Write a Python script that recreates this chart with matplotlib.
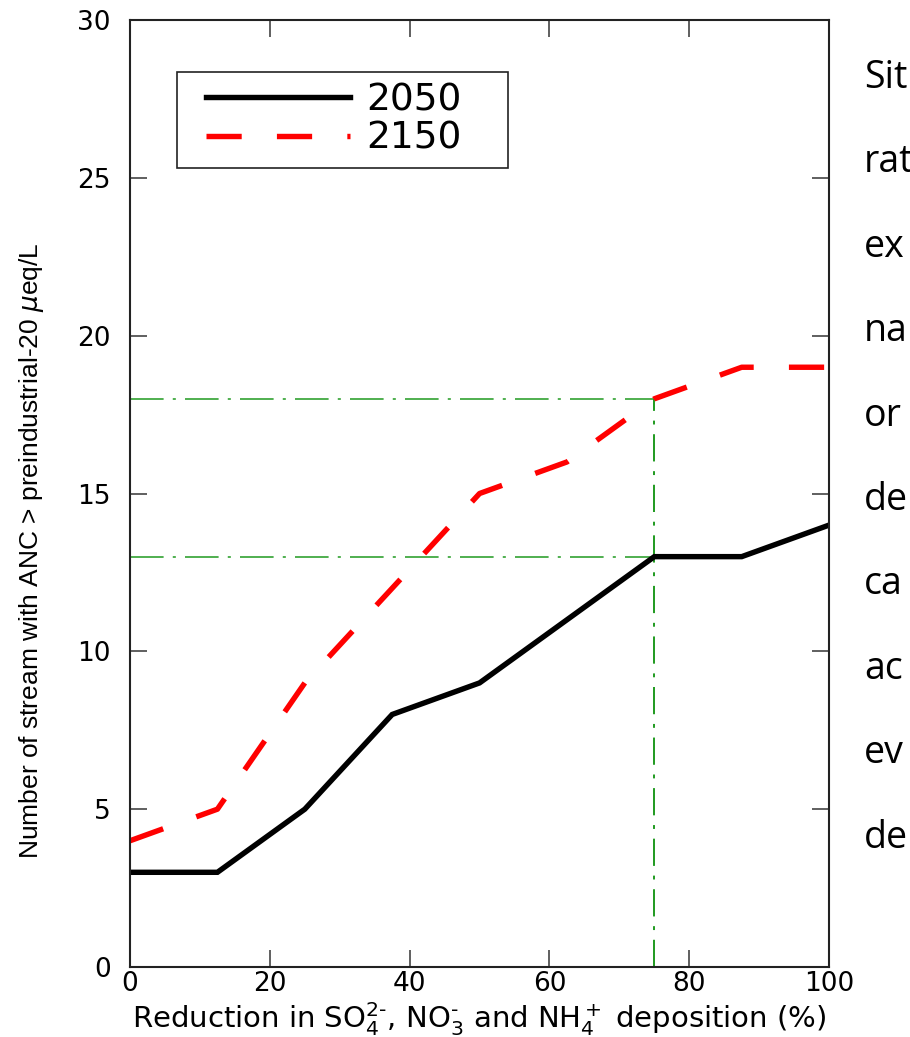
"""Stream recovery vs. deposition reduction"""

import matplotlib.pyplot as plt
from matplotlib.patches import Rectangle

# reduction in deposition (%)
reduction = [0, 12.5, 25, 37.5, 50, 62.5, 75, 87.5, 100]
# number of streams recovered by 2050 and 2150
streams_2050 = [3, 3, 5, 8, 9, 11, 13, 13, 14]
streams_2150 = [4, 5, 9, 12, 15, 16, 18, 19, 19]

# 75 % reduction target and what it gives in each year
target = 75
target_2050 = 13
target_2150 = 18

side_words = ['Sit', 'rat', 'ex', 'na', 'or', 'de', 'ca', 'ac', 'ev', 'de']


def main():
    fig = plt.figure(figsize=(9.1, 10.37), dpi=100)
    ax = fig.add_axes([0.1429, 0.0675, 0.7682, 0.9132])

    green = '#1f9a1f'
    ax.plot([0, target], [target_2150, target_2150], color=green,
            lw=1.1, ls=(0, (22, 6, 2, 6)))
    ax.plot([0, target], [target_2050, target_2050], color=green,
            lw=1.1, ls=(0, (22, 6, 2, 6)))
    ax.plot([target, target], [0, target_2150], color=green,
            lw=1.4, ls=(0, (14, 5, 2, 5)))

    ax.plot(reduction, streams_2050, color='black', lw=3.9,
            solid_joinstyle='miter', label='2050')
    ax.plot(reduction, streams_2150, color='red', lw=3.9,
            ls=(0, (6.5, 6.5)), dash_capstyle='butt', label='2150')

    ax.set_xlim(0, 100)
    ax.set_ylim(0, 30)
    ax.set_xticks(range(0, 101, 20))
    ax.set_yticks(range(0, 31, 5))
    ax.tick_params(direction='in', length=12, width=1.2, top=True,
                   right=True, labelsize=19, color='#444444')
    ax.tick_params(axis='y', pad=14)
    ax.tick_params(axis='x', pad=3)
    for s in ax.spines.values():
        s.set_linewidth(1.5)
        s.set_color('#222222')

    ax.set_xlabel(r'Reduction in SO$_4^{2\text{-}}$, NO$_3^{\text{-}}$ and '
                  r'NH$_4^+$ deposition (%)', fontsize=21, va='center')
    ax.xaxis.set_label_coords(0.5, -0.055)
    ax.set_ylabel(r'Number of stream with ANC > preindustrial-20 $\mu$eq/L',
                  fontsize=19, family='Liberation Sans')
    ax.yaxis.set_label_coords(-0.12, 0.44)

    # legend box drawn separately so its padding can be wider than tall
    ax.add_patch(Rectangle((0.067, 0.844), 0.474, 0.101,
                           transform=ax.transAxes, facecolor='white',
                           edgecolor='#222222', lw=1.2, zorder=4))
    leg = ax.legend(loc='upper left', bbox_to_anchor=(0.109, 0.9345),
                    fontsize=27, handlelength=3.84, handletextpad=0.43,
                    borderpad=0, borderaxespad=0, labelspacing=0.07,
                    frameon=False)
    leg.set_zorder(5)

    # cut-off words of the caption on the right
    for i, w in enumerate(side_words):
        fig.text(864 / 910, 1 - (88 + i * 84.4) / 1037, w,
                 fontsize=27, family='Open Sans', va='baseline', ha='left')

    plt.savefig('out.png', dpi=100)


if __name__ == "__main__":
    main()
